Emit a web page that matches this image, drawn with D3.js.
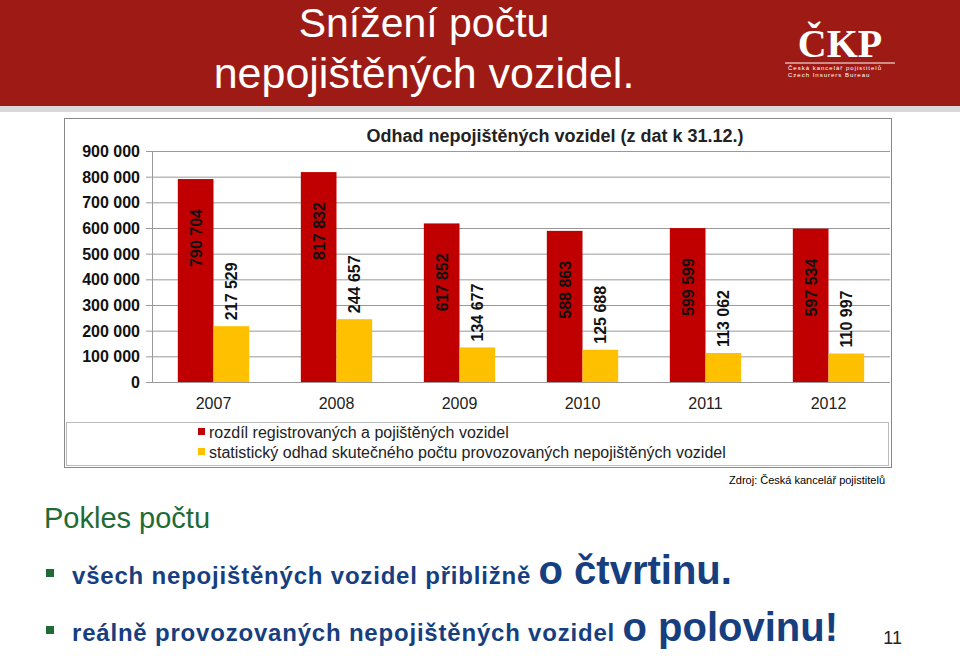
<!DOCTYPE html>
<html><head><meta charset="utf-8">
<script src="https://cdn.jsdelivr.net/npm/d3@7"></script>
<style>body{margin:0;background:#fff;font-family:Arial,"Liberation Sans",sans-serif}</style>
</head><body>
<script>
var years = ["2007", "2008", "2009", "2010", "2011", "2012"];
var registered = [790704, 817832, 617852, 588863, 599599, 597534];
var estimated = [217529, 244657, 134677, 125688, 113062, 110997];
var ticks = [0, 100000, 200000, 300000, 400000, 500000, 600000, 700000, 800000, 900000];
var legendLabels = ["rozdíl registrovaných a pojištěných vozidel", "statistický odhad skutečného počtu provozovaných nepojištěných vozidel"];
var colors = ["#c00000", "#ffc000"];

var fmt = function (v) { return d3.format(",")(v).replace(/,/g, " "); };
var svg = d3.select("body").append("svg").attr("width", 960).attr("height", 656);

// header
svg.append("rect").attr("width", 960).attr("height", 106).attr("fill", "#9e1b15");
svg.append("rect").attr("y", 106).attr("width", 960).attr("height", 6).attr("fill", "#d9d9d9");
svg.append("text").attr("x", 424).attr("y", 37).attr("text-anchor", "middle").attr("fill", "#fff")
	.attr("font-size", 41).text("Snížení počtu");
svg.append("text").attr("x", 424).attr("y", 88).attr("text-anchor", "middle").attr("fill", "#fff")
	.attr("font-size", 43).text("nepojištěných vozidel.");
svg.append("text").attr("x", 840).attr("y", 57).attr("text-anchor", "middle").attr("fill", "#fff")
	.attr("font-size", 40).attr("font-weight", "bold").attr("font-family", "Liberation Serif,serif").text("ČKP");
svg.append("line").attr("x1", 785).attr("x2", 895).attr("y1", 63).attr("y2", 63).attr("stroke", "#fff");
svg.append("text").attr("x", 788).attr("y", 70).attr("fill", "#fff").attr("font-size", 6).attr("letter-spacing", 1).text("Česká kancelář pojistitelů");
svg.append("text").attr("x", 788).attr("y", 77).attr("fill", "#fff").attr("font-size", 6).attr("letter-spacing", 1).text("Czech Insurers Bureau");

// chart frame
svg.append("rect").attr("x", 64.5).attr("y", 118.5).attr("width", 827).attr("height", 349)
	.attr("fill", "#fff").attr("stroke", "#888");
svg.append("rect").attr("x", 66.5).attr("y", 422.5).attr("width", 822).attr("height", 43)
	.attr("fill", "none").attr("stroke", "#bbb");
svg.append("text").attr("x", 555).attr("y", 142).attr("text-anchor", "middle").attr("font-size", 18)
	.attr("font-weight", "bold").attr("fill", "#222").text("Odhad nepojištěných vozidel (z dat k 31.12.)");

var x = d3.scaleBand().domain(years).range([152, 890]).paddingInner(0.42).paddingOuter(0.21);
var y = d3.scaleLinear().domain([0, 900000]).range([382, 151]);
var g = svg.append("g");

g.selectAll(".grid").data(ticks).join("line")
	.attr("x1", 146).attr("x2", 890).attr("y1", function (d) { return y(d) + 0.5; }).attr("y2", function (d) { return y(d) + 0.5; })
	.attr("stroke", "#999");
g.append("line").attr("x1", 152.5).attr("x2", 152.5).attr("y1", 151).attr("y2", 382).attr("stroke", "#999");
g.selectAll(".yt").data(ticks).join("text")
	.attr("x", 140).attr("y", function (d) { return y(d) + 6; }).attr("text-anchor", "end")
	.attr("font-size", 16).attr("font-weight", "bold").attr("fill", "#111").text(fmt);
g.selectAll(".xt").data(years).join("text")
	.attr("x", function (d) { return x(d) + x.bandwidth() / 2; }).attr("y", 409).attr("text-anchor", "middle")
	.attr("font-size", 16).attr("fill", "#222").text(function (d) { return d; });

var bw = x.bandwidth() / 2;
[registered, estimated].forEach(function (series, s) {
	g.selectAll(".b" + s).data(series).join("rect")
		.attr("x", function (d, i) { return x(years[i]) + s * bw; })
		.attr("y", function (d) { return y(d); })
		.attr("width", bw).attr("height", function (d) { return 382 - y(d); })
		.attr("fill", colors[s]);
	g.selectAll(".l" + s).data(series).join("text")
		.attr("transform", function (d, i) {
			var cx = x(years[i]) + s * bw + bw / 2 + 6;
			var cy = s === 0 ? y(d) + 30 : y(d) - 6;
			return "translate(" + cx + "," + cy + ") rotate(-90)";
		})
		.attr("text-anchor", s === 0 ? "end" : "start")
		.attr("font-size", 16).attr("font-weight", "bold").attr("fill", "#111").text(fmt);
});

legendLabels.forEach(function (t, i) {
	svg.append("rect").attr("x", 198).attr("y", 428 + i * 20).attr("width", 7).attr("height", 7).attr("fill", colors[i]);
	svg.append("text").attr("x", 209).attr("y", 438 + i * 20).attr("font-size", 16).attr("fill", "#222").text(t);
});

// footer text
svg.append("text").attr("x", 885).attr("y", 484).attr("text-anchor", "end").attr("font-size", 11).text("Zdroj: Česká kancelář pojistitelů");
svg.append("text").attr("x", 44).attr("y", 528).attr("font-size", 29).attr("fill", "#1f6b36").text("Pokles počtu");
[[584, "všech nepojištěných vozidel přibližně ", "o čtvrtinu."], [641, "reálně provozovaných nepojištěných vozidel  ", "o polovinu!"]].forEach(function (r) {
	svg.append("rect").attr("x", 46).attr("y", r[0] - 15).attr("width", 8).attr("height", 8).attr("fill", "#1f6b36");
	var t = svg.append("text").attr("x", 72).attr("y", r[0]).attr("fill", "#173f80").attr("font-weight", "bold");
	t.append("tspan").attr("font-size", 24).attr("letter-spacing", 0.8).text(r[1]);
	t.append("tspan").attr("font-size", 40).text(r[2]);
});
svg.append("text").attr("x", 902).attr("y", 644).attr("text-anchor", "end").attr("font-size", 18).attr("fill", "#222").text("11");
</script>
</body></html>
